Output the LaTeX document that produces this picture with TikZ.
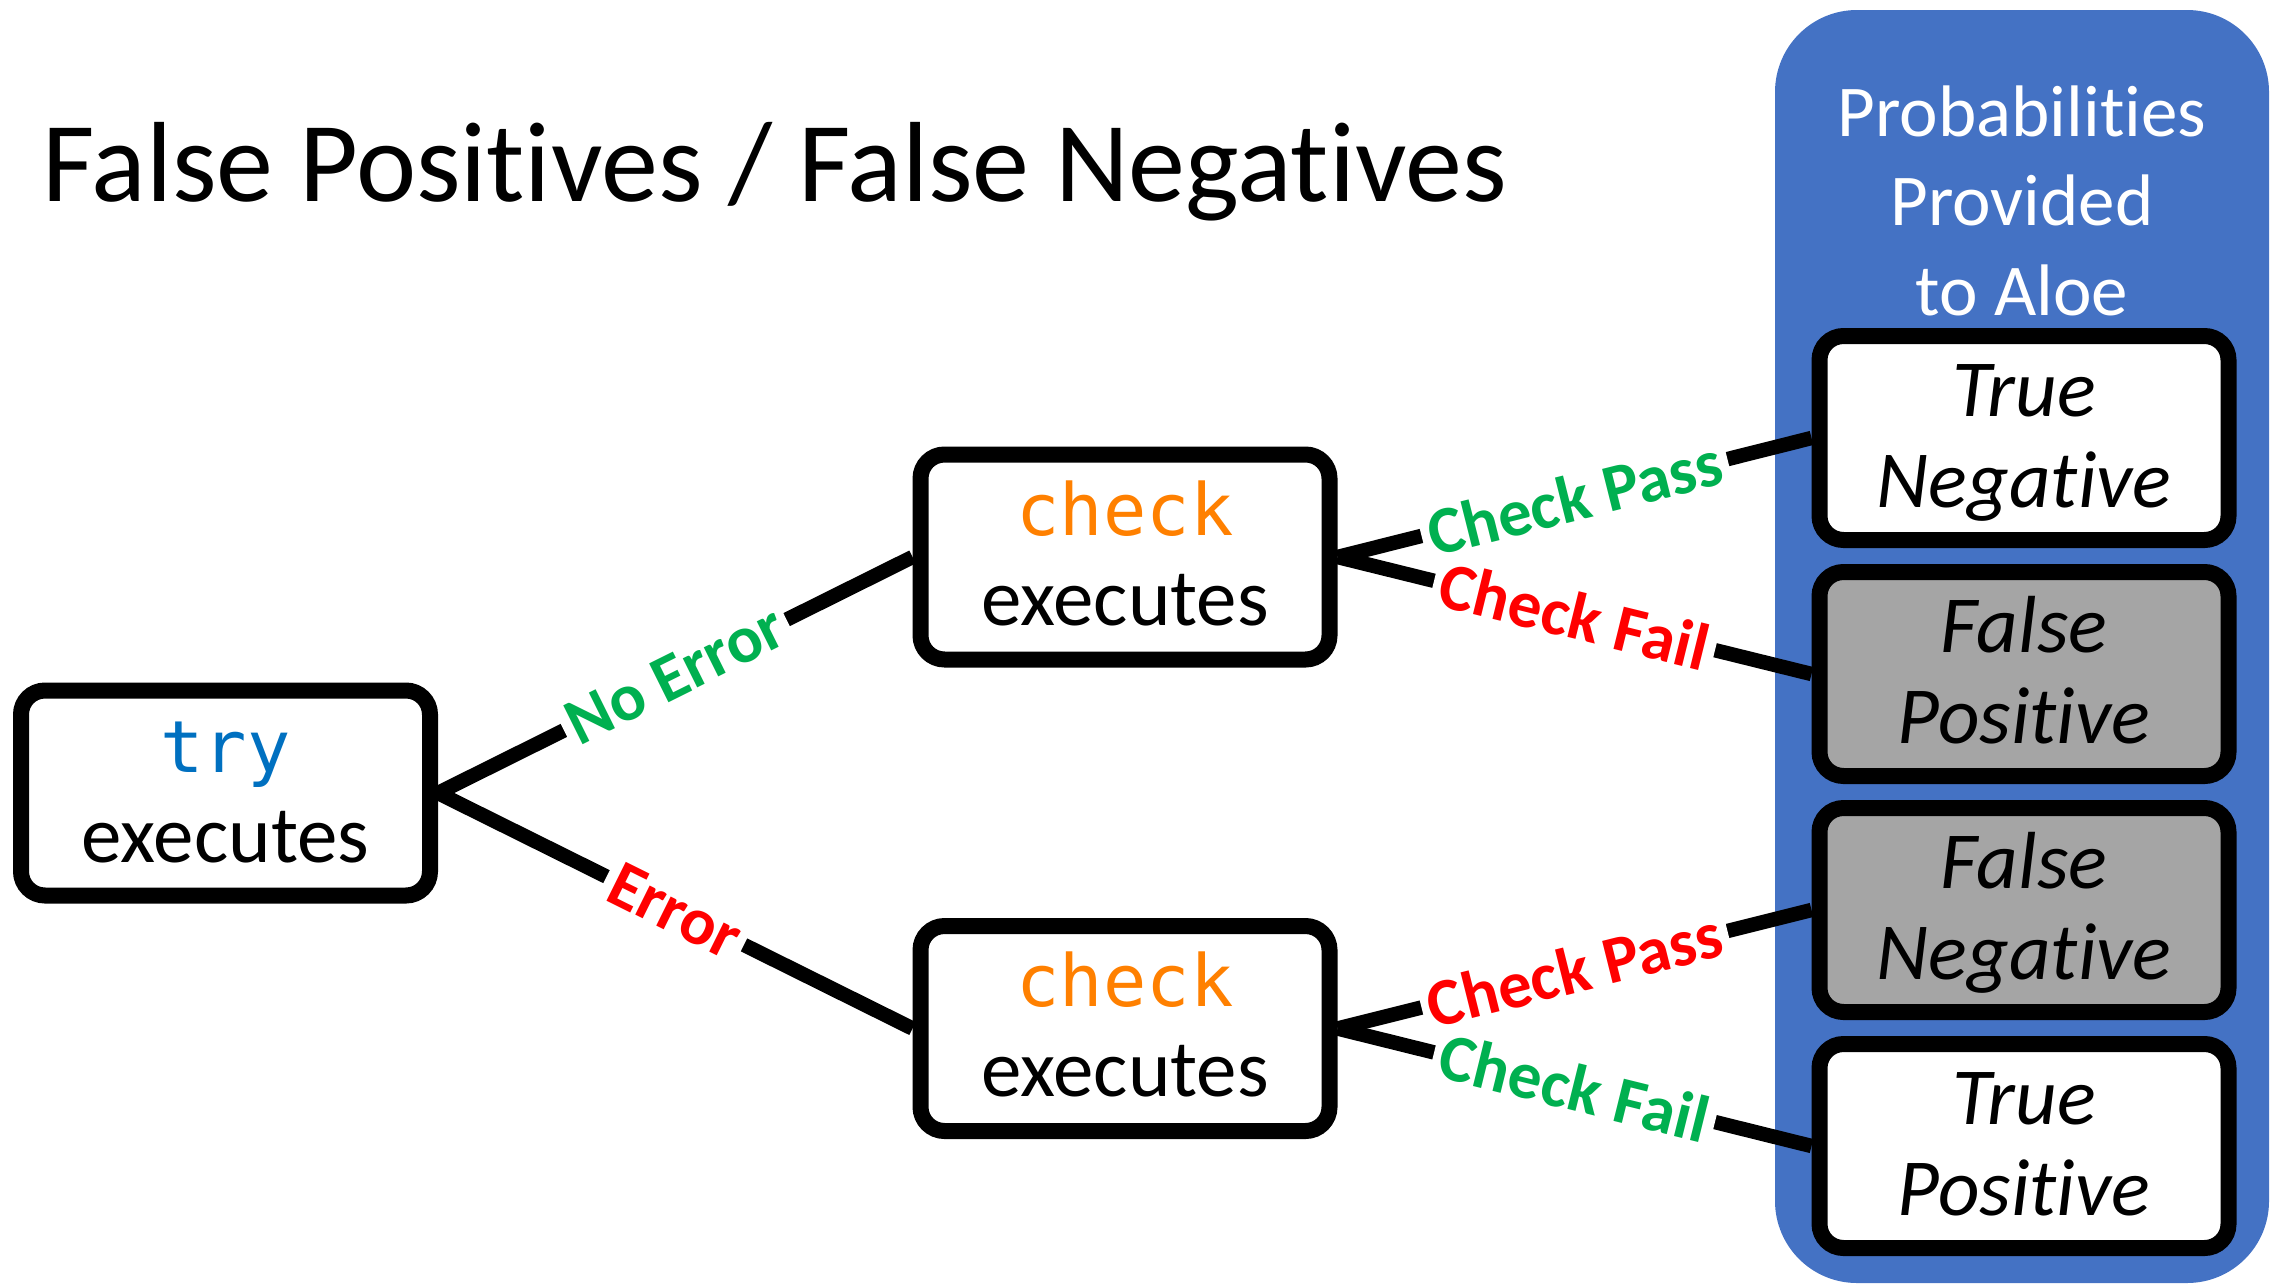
\documentclass[tikz,border=0pt]{standalone}
\usepackage{fontspec}
\setmainfont[Ligatures=NoCommon]{Carlito}
\newfontfamily\codefont{DejaVu Sans Mono}
\usetikzlibrary{calc}

\definecolor{panelblue}{HTML}{4472C4}
\definecolor{okgreen}{HTML}{00B050}
\definecolor{badred}{HTML}{FF0000}
\definecolor{trycolor}{HTML}{0070C0}
\definecolor{checkcolor}{HTML}{FF8000}
\definecolor{outcomegray}{HTML}{A5A5A5}

% stacked centred lines; the node's base is the first line's baseline
\newcommand{\stacklines}[1]{\begin{tabular}[t]{@{}c@{}}#1\end{tabular}}

\tikzset{
  stagebox/.style={draw=black, line width=16pt, rounded corners=24pt, fill=white,
    minimum width=409pt, minimum height=205pt, inner sep=0pt},
  outcomebox/.style={stagebox, minimum height=204pt},
  boxtext/.style={anchor=base, inner sep=0pt, font=\fontsize{81}{90}\selectfont},
  outcometext/.style={boxtext, font=\fontsize{81}{91}\selectfont\itshape},
  conn/.style={draw=black, line width=14.5pt},
  branchlabel/.style={sloped, fill=white, inner xsep=7pt, inner ysep=1pt,
    font=\fontsize{67}{78}\selectfont\bfseries},
}

\begin{document}
\begin{tikzpicture}[x=1pt, y=-1pt]
\useasboundingbox (0,0) rectangle (2282,1285);

% title
\node[anchor=base west, inner sep=0pt, font=\fontsize{114}{130}\selectfont]
  (title) at (42,201) {False Positives / False Negatives};

% right-hand panel holding the four outcomes
\node[fill=panelblue, rounded corners=82pt, minimum width=494pt, minimum height=1273pt,
  inner sep=0pt] (panel) at (2022,646.5) {};
\node[anchor=base, inner sep=0pt, text=white, font=\fontsize{73}{89.5}\selectfont]
  (paneltitle) at (2022,136) {\stacklines{Probabilities\\Provided\\to Aloe}};

% stage boxes
\node[stagebox] (try) at (225.5,793) {};
\node[stagebox] (chkA) at (1125,557) {};
\node[stagebox] (chkB) at (1125,1028.5) {};

\node[boxtext] (trytext) at ($(try.center)+(0,-21)$)
  {\stacklines{{\codefont\fontsize{72}{90}\selectfont\color{trycolor}try}\\executes}};
\node[boxtext] (chkAtext) at ($(chkA.center)+(0,-22)$)
  {\stacklines{{\codefont\fontsize{72}{90}\selectfont\color{checkcolor}check}\\executes}};
\node[boxtext] (chkBtext) at ($(chkB.center)+(0,-22)$)
  {\stacklines{{\codefont\fontsize{72}{90}\selectfont\color{checkcolor}check}\\executes}};

% outcome boxes
\node[outcomebox] (tn) at (2024,438) {};
\node[outcomebox, fill=outcomegray] (fp) at (2024,674) {};
\node[outcomebox, fill=outcomegray] (fn) at (2024,910) {};
\node[outcomebox] (tp) at (2024,1146) {};

\node[outcometext] (tntext) at ($(tn.center)+(0,-22)$) {\stacklines{True\\Negative}};
\node[outcometext] (fptext) at ($(fp.center)+(0,-22)$) {\stacklines{False\\Positive}};
\node[outcometext] (fntext) at ($(fn.center)+(0,-22)$) {\stacklines{False\\Negative}};
\node[outcometext] (tptext) at ($(tp.center)+(0,-22)$) {\stacklines{True\\Positive}};

% branches
\draw[conn] (try.east) -- node[branchlabel, text=okgreen] (lblnoerr) {No Error} (chkA.west);
\draw[conn] (try.east) -- node[branchlabel, text=badred] (lblerr) {Error} (chkB.west);
\draw[conn] (chkA.east) -- node[branchlabel, text=okgreen] (lblApass) {Check Pass} (tn.west);
\draw[conn] (chkA.east) -- node[branchlabel, text=badred] (lblAfail) {Check Fail} (fp.west);
\draw[conn] (chkB.east) -- node[branchlabel, text=badred] (lblBpass) {Check Pass} (fn.west);
\draw[conn] (chkB.east) -- node[branchlabel, text=okgreen] (lblBfail) {Check Fail} (tp.west);
\end{tikzpicture}
\end{document}
